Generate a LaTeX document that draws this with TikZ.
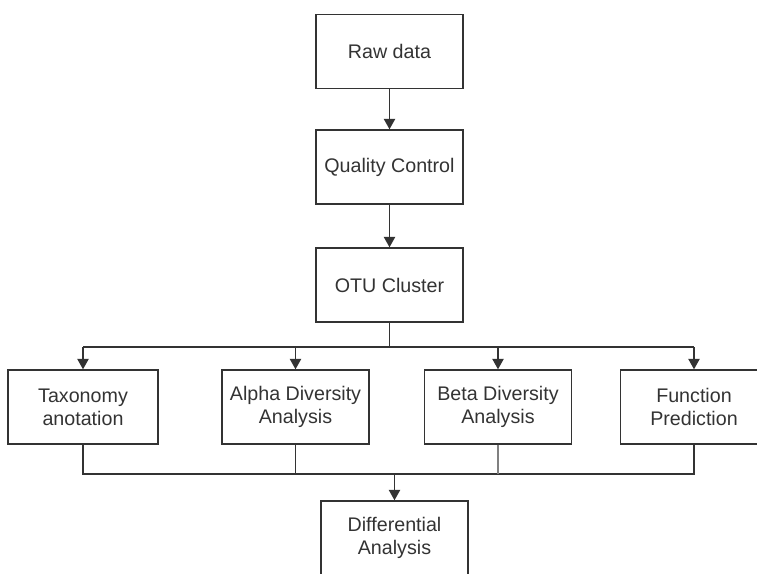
\documentclass[tikz,border=0pt]{standalone}
\usepackage{fontspec}
\setmainfont{Liberation Sans}
\usetikzlibrary{arrows.meta}
\begin{document}
\begin{tikzpicture}[
        x=0.02cm, y=-0.02cm,
        box/.style={rectangle, draw=black!80, line width=0.8pt, minimum width=2.94cm, minimum height=1.48cm, align=center, font=\fontsize{11.2}{13}\selectfont, text=black!80, inner sep=1pt},
        line/.style={draw=black!80, line width=0.8pt, -{Triangle[width=6.5pt, length=6pt]}},
        wire/.style={draw=black!80, line width=0.8pt}
    ]
        \useasboundingbox (0,0) rectangle (757,574);

        \node[box] (raw) at (389.5, 51.5) {Raw data};
        \node[box] (qc) at (389.5, 167) {Quality Control};
        \node[box] (otu) at (389.5, 285) {OTU Cluster};

        % analysis row
        \node[box, minimum width=3cm] (tax) at (83, 407) {Taxonomy\\anotation};
        \node[box] (alpha) at (295.5, 407) {Alpha Diversity\\Analysis};
        \node[box] (beta) at (498, 407) {Beta Diversity\\Analysis};
        \node[box] (func) at (694, 407) {Function\\Prediction};

        \node[box] (diff) at (394.5, 538) {Differential\\Analysis};

        \coordinate (bus1) at (389.5, 347);
        \coordinate (bus2) at (394.5, 474);

        \draw[line] (raw) -- (qc);
        \draw[line] (qc) -- (otu);

        \draw[wire] (otu.south) -- (bus1);
        \draw[wire] (tax.north |- bus1) -- (func.north |- bus1);
        \draw[line] (tax.north |- bus1) -- (tax.north);
        \draw[line] (alpha.north |- bus1) -- (alpha.north);
        \draw[line] (beta.north |- bus1) -- (beta.north);
        \draw[line] (func.north |- bus1) -- (func.north);

        \draw[wire] (tax.south) -- (tax.south |- bus2) -- (func.south |- bus2) -- (func.south);
        \draw[wire] (alpha.south) -- (alpha.south |- bus2);
        \draw[wire, draw=black!50] (beta.south) -- (beta.south |- bus2);
        \draw[line] (bus2) -- (diff.north);
    \end{tikzpicture}
\end{document}
